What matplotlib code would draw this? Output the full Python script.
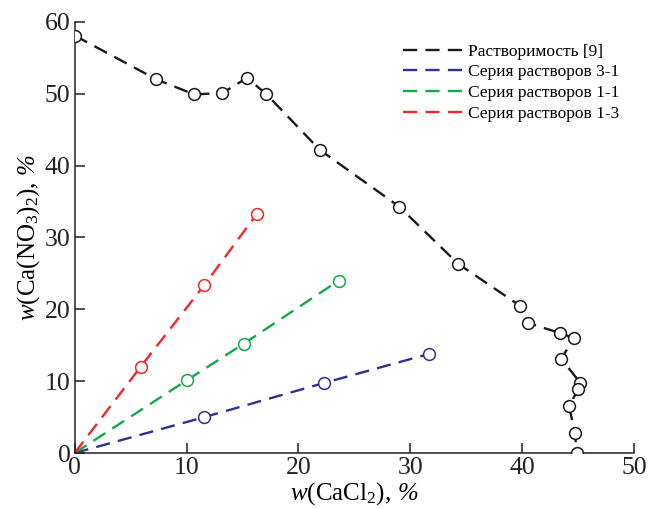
import numpy as np
import matplotlib
matplotlib.use("Agg")
import matplotlib.pyplot as plt

plt.rcParams['font.family'] = ['Liberation Serif', 'DejaVu Serif']
plt.rcParams['mathtext.fontset'] = 'custom'
plt.rcParams['mathtext.rm'] = 'Liberation Serif'
plt.rcParams['mathtext.it'] = 'Liberation Serif:italic'

# solubility curve [9]
sol_x = [0.0, 7.3, 10.7, 13.2, 15.4, 17.1, 21.9, 29.0, 34.3, 39.8, 40.5,
         43.4, 44.6, 43.5, 45.2, 45.0, 44.2, 44.7, 44.9]
sol_y = [58.1, 52.0, 49.9, 50.1, 52.2, 50.0, 42.2, 34.3, 26.3, 20.5, 18.1,
         16.7, 16.0, 13.1, 9.75, 8.9, 6.5, 2.8, 0.0]

# solution series, points measured
s31_x = [11.6, 22.3, 31.7]
s31_y = [5.0, 9.75, 13.8]
s11_x = [10.0, 15.1, 23.6]
s11_y = [10.1, 15.2, 24.0]
s13_x = [5.9, 11.6, 16.3]
s13_y = [12.0, 23.4, 33.3]

labels = ['Растворимость [9]', 'Серия растворов 3-1',
          'Серия растворов 1-1', 'Серия растворов 1-3']
colors = ['#1a1a1a', '#2e3192', '#13a84a', '#f0262b']

fig = plt.figure(figsize=(6.49, 5.09), dpi=100)
ax = fig.add_axes([0.115, 0.110, 0.862, 0.847])

dash = (6, 3.5)
ms = 8.5
mew = 1.1
lw = 1.7

ax.plot(sol_x, sol_y, ls=(0, dash), color=colors[0], lw=lw, zorder=2)
ax.plot(sol_x, sol_y, 'o', ms=ms, mfc='white', mec=colors[0], mew=mew, zorder=3)

series = [(s31_x, s31_y), (s11_x, s11_y), (s13_x, s13_y)]
handles = [ax.plot([], [], ls=(0, dash), color=colors[0], lw=lw)[0]]
for (sx, sy), c in zip(series, colors[1:]):
    # each series is drawn from the origin
    h, = ax.plot([0] + sx, [0] + sy, ls=(0, dash), color=c, lw=lw, zorder=2)
    ax.plot(sx, sy, 'o', ms=ms, mfc='white', mec=c, mew=mew, zorder=3)
    handles.append(h)

ax.set_xlim(0, 50)
ax.set_ylim(0, 60)
ax.set_xticks(np.arange(0, 51, 10))
ax.set_yticks(np.arange(0, 61, 10))
ax.spines['top'].set_visible(False)
ax.spines['right'].set_visible(False)
for s in ('left', 'bottom'):
    ax.spines[s].set_linewidth(1.1)
    ax.spines[s].set_color('#222222')
ax.tick_params(direction='in', length=7, width=1.1, labelsize=18.5, pad=3,
               colors='#222222')

# italic plain text gives the italic percent sign
ax.set_xlabel(r'$w\mathrm{(CaCl}_2\mathrm{),}\,$%', fontsize=18,
              fontstyle='italic', labelpad=1)
ax.set_ylabel(r'$w\mathrm{(Ca(NO}_3\mathrm{)}_2\mathrm{),}\,$%', fontsize=18,
              fontstyle='italic', labelpad=2)

ax.legend(handles, labels, loc='upper left', bbox_to_anchor=(0.597, 0.945),
          bbox_transform=fig.transFigure, frameon=False, fontsize=12.5,
          handlelength=3.4, handletextpad=0.35, labelspacing=0.26)

fig.savefig('out.png', dpi=100)
